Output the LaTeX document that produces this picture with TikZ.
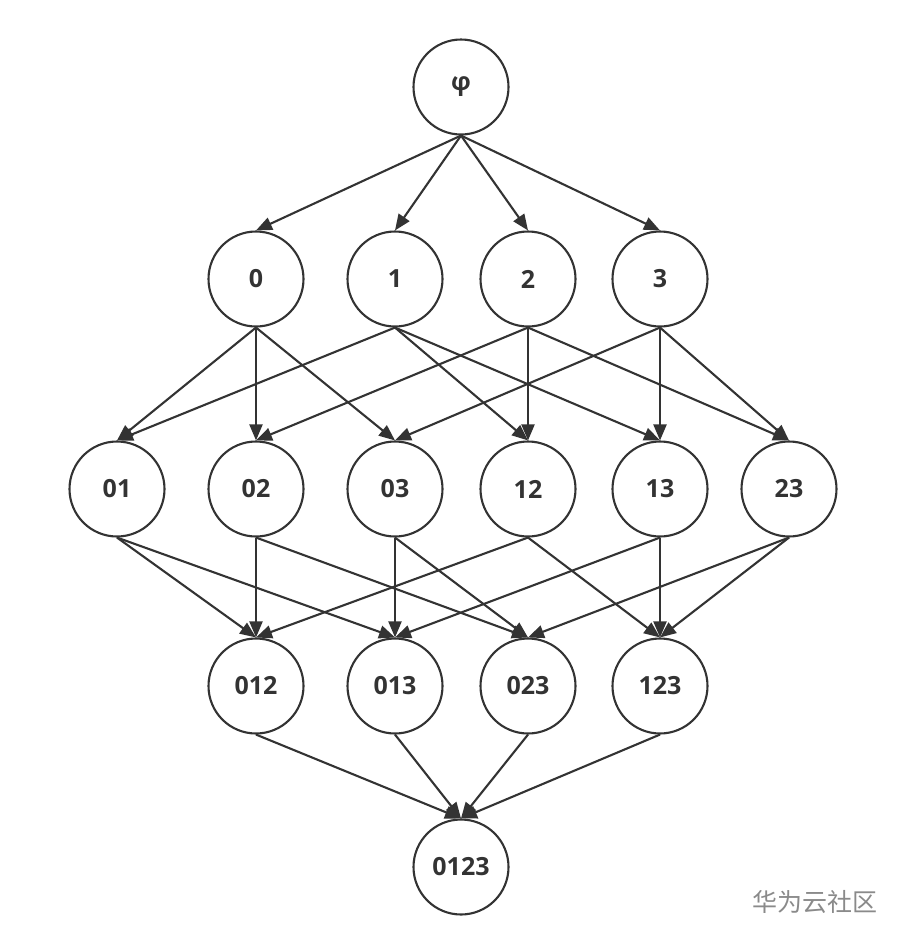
\documentclass[tikz,border=0pt]{standalone}
\usepackage{fontspec}
\setmainfont{Open Sans}
\newfontfamily\cjk{Noto Sans CJK SC}
\usetikzlibrary{arrows.meta}
\definecolor{ink}{HTML}{333333}
\definecolor{wm}{HTML}{8A8A8A}
\begin{document}
\begin{tikzpicture}[x=1pt,y=-1pt,
  setnode/.style={circle,draw=ink,line width=2.1pt,minimum size=95pt,inner sep=0pt,
    font=\fontsize{25}{25}\selectfont\bfseries,text=ink,fill=white},
  edge/.style={draw=ink,line width=2.1pt,-{Triangle[length=16pt,width=13pt]}}]
\useasboundingbox (0,0) rectangle (899,943);
% nodes
\node[setnode] (e) at (461,87) {φ};
\node[setnode] (n0) at (256,279) {0};
\node[setnode] (n1) at (395,279) {1};
\node[setnode] (n2) at (528,279) {2};
\node[setnode] (n3) at (660,279) {3};
\node[setnode] (n01) at (117,489) {01};
\node[setnode] (n02) at (256,489) {02};
\node[setnode] (n03) at (395,489) {03};
\node[setnode] (n12) at (528,489) {12};
\node[setnode] (n13) at (660,489) {13};
\node[setnode] (n23) at (789,489) {23};
\node[setnode] (n012) at (256,686) {012};
\node[setnode] (n013) at (395,686) {013};
\node[setnode] (n023) at (528,686) {023};
\node[setnode] (n123) at (660,686) {123};
\node[setnode] (n0123) at (461,867) {0123};
% edges
\foreach \t in {n0,n1,n2,n3} \draw[edge] (e.south) -- (\t.north);
\foreach \s/\t in {n0/n01,n0/n02,n0/n03,n1/n01,n1/n12,n1/n13,n2/n02,n2/n12,n2/n23,n3/n03,n3/n13,n3/n23,
  n01/n012,n01/n013,n02/n012,n02/n023,n03/n013,n03/n023,n12/n012,n12/n123,n13/n013,n13/n123,n23/n023,n23/n123,
  n012/n0123,n013/n0123,n023/n0123,n123/n0123}
  \draw[edge] (\s.south) -- (\t.north);
% watermark
\node[font=\cjk\fontsize{25}{25}\selectfont,text=wm,anchor=center] (wm) at (815,902) {华为云社区};
\end{tikzpicture}
\end{document}
